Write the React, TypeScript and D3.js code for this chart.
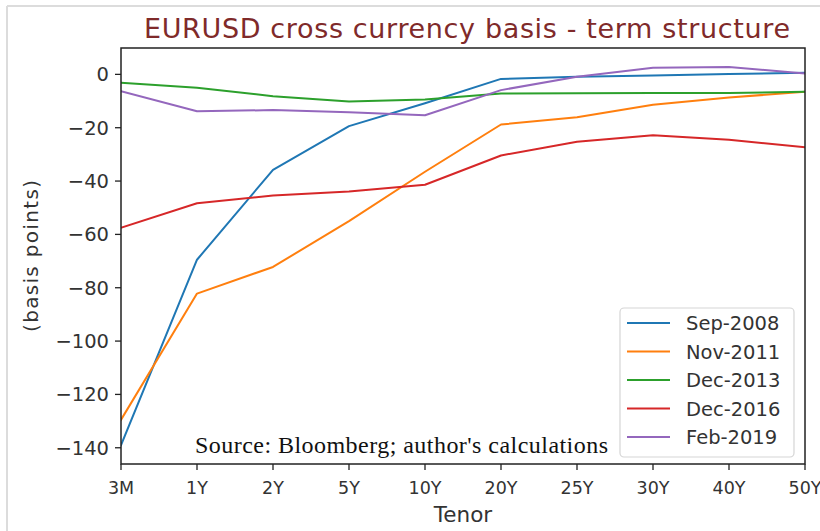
import React from "react";
import * as d3 from "d3";

const tenors = ["3M", "1Y", "2Y", "5Y", "10Y", "20Y", "25Y", "30Y", "40Y", "50Y"];
const yTicks = [0, -20, -40, -60, -80, -100, -120, -140];

const seriesNames = ["Sep-2008", "Nov-2011", "Dec-2013", "Dec-2016", "Feb-2019"];
const seriesColors = ["#1f77b4", "#ff7f0e", "#2ca02c", "#d62728", "#9467bd"];

const sep2008 = [-139, -69.5, -35.8, -19.4, -10.8, -1.7, -0.9, -0.4, 0.1, 0.6];
const nov2011 = [-129.5, -82.2, -72.2, -55, -36.5, -18.8, -16.1, -11.4, -8.7, -6.5];
const dec2013 = [-3.1, -5, -8.2, -10.2, -9.4, -7.2, -7.1, -7.0, -7.0, -6.5];
const dec2016 = [-57.5, -48.3, -45.4, -43.9, -41.4, -30.4, -25.3, -22.8, -24.5, -27.3];
const feb2019 = [-6.3, -13.8, -13.4, -14.2, -15.3, -5.9, -0.9, 2.5, 2.8, 0.3];

const seriesValues = [sep2008, nov2011, dec2013, dec2016, feb2019];

const W = 820;
const H = 531;
const left = 121;
const right = 805;
const top = 48;
const bottom = 464;

export default function App() {
  const x = d3.scalePoint<string>().domain(tenors).range([left, right]).padding(0);
  const allVals = seriesValues.flat();
  const mn = d3.min(allVals) as number;
  const mx = d3.max(allVals) as number;
  const pad = (mx - mn) * 0.05;
  const y = d3.scaleLinear().domain([mn - pad, mx + pad]).range([bottom, top]);
  const line = d3
    .line<number>()
    .x((_, i) => x(tenors[i]) as number)
    .y((d) => y(d));

  const tickFont = "DejaVu Sans, sans-serif";
  const tickColor = "#333";

  return (
    <svg
      width={W}
      height={H}
      style={{ position: "absolute", left: 0, top: 0, background: "#fff" }}
    >
      <rect x={0} y={0} width={W} height={H} fill="#fff" />
      <line x1={7} y1={6} x2={W} y2={6} stroke="#dcdcdc" strokeWidth={2} />
      <line x1={7} y1={6} x2={7} y2={H} stroke="#dcdcdc" strokeWidth={2} />

      <text
        x={467}
        y={38}
        textAnchor="middle"
        fontFamily={tickFont}
        fontSize={27}
        textLength={646}
        lengthAdjust="spacing"
        fill="#7f2a2a"
      >
        EURUSD cross currency basis - term structure
      </text>

      <defs>
        <clipPath id="plotclip">
          <rect x={left} y={top} width={right - left} height={bottom - top} />
        </clipPath>
      </defs>

      <g clipPath="url(#plotclip)">
        {seriesValues.map((vals, i) => (
          <path
            key={seriesNames[i]}
            d={line(vals) as string}
            fill="none"
            stroke={seriesColors[i]}
            strokeWidth={2}
            strokeLinejoin="round"
            strokeLinecap="square"
          />
        ))}
      </g>

      <rect
        x={left}
        y={top}
        width={right - left}
        height={bottom - top}
        fill="none"
        stroke="#222"
        strokeWidth={1.5}
      />

      {yTicks.map((t) => (
        <g key={t}>
          <line x1={left - 6} x2={left} y1={y(t)} y2={y(t)} stroke="#222" strokeWidth={1.3} />
          <text
            x={left - 12}
            y={y(t)}
            dy="0.36em"
            textAnchor="end"
            fontFamily={tickFont}
            fontSize={19.5}
            fill={tickColor}
          >
            {t < 0 ? "\u2212" + Math.abs(t) : String(t)}
          </text>
        </g>
      ))}

      {tenors.map((t) => (
        <g key={t}>
          <line
            x1={x(t) as number}
            x2={x(t) as number}
            y1={bottom}
            y2={bottom + 6}
            stroke="#222"
            strokeWidth={1.3}
          />
          <text
            x={x(t) as number}
            y={bottom + 30}
            textAnchor="middle"
            fontFamily={tickFont}
            fontSize={17.5}
            fill={tickColor}
          >
            {t}
          </text>
        </g>
      ))}

      <text
        x={(left + right) / 2}
        y={522}
        textAnchor="middle"
        fontFamily={tickFont}
        fontSize={21.5}
        fill={tickColor}
      >
        Tenor
      </text>
      <text
        transform={`translate(38, ${(top + bottom) / 2}) rotate(-90)`}
        textAnchor="middle"
        fontFamily={tickFont}
        fontSize={20}
        textLength={152}
        lengthAdjust="spacing"
        fill={tickColor}
      >
        (basis points)
      </text>

      <text
        x={195}
        y={453}
        fontFamily="Liberation Serif, Times New Roman, serif"
        fontSize={24}
        textLength={413}
        lengthAdjust="spacing"
        fill="#111"
      >
        Source: Bloomberg; author's calculations
      </text>

      <g>
        <rect
          x={620}
          y={308}
          width={174}
          height={149}
          rx={4}
          fill="#fff"
          fillOpacity={0.85}
          stroke="#d5d5d5"
          strokeWidth={1.2}
        />
        {seriesNames.map((name, i) => {
          const ly = 323 + i * 28.5;
          return (
            <g key={name}>
              <line x1={627} x2={670} y1={ly} y2={ly} stroke={seriesColors[i]} strokeWidth={2.2} />
              <text
                x={686}
                y={ly}
                dy="0.36em"
                fontFamily={tickFont}
                fontSize={19.5}
                fill={tickColor}
              >
                {name}
              </text>
            </g>
          );
        })}
      </g>
    </svg>
  );
}
